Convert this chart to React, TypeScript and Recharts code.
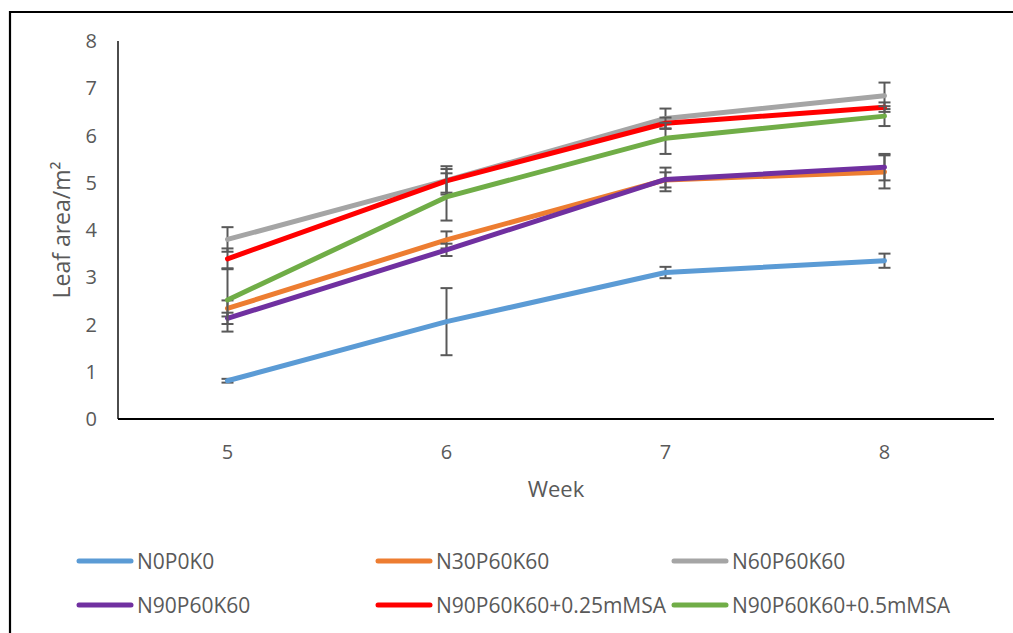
import React from 'react';
import { LineChart, Line, XAxis, YAxis, ErrorBar, Label } from 'recharts';

const weeks = ['5', '6', '7', '8'];
const yTicks = [0, 1, 2, 3, 4, 5, 6, 7, 8];

const seriesNames = [
  'N0P0K0',
  'N30P60K60',
  'N60P60K60',
  'N90P60K60',
  'N90P60K60+0.25mMSA',
  'N90P60K60+0.5mMSA',
];
const seriesColors = ['#5B9BD5', '#ED7D31', '#A5A5A5', '#7030A0', '#FF0000', '#70AD47'];

const n0p0k0 = [0.81, 2.06, 3.1, 3.35];
const n0p0k0Err = [0.04, 0.71, 0.12, 0.15];
const n30p60k60 = [2.34, 3.79, 5.06, 5.23];
const n30p60k60Err = [0.17, 0.18, 0.16, 0.35];
const n60p60k60 = [3.8, 5.05, 6.36, 6.84];
const n60p60k60Err = [0.26, 0.3, 0.21, 0.28];
const n90p60k60 = [2.13, 3.58, 5.07, 5.33];
const n90p60k60Err = [0.12, 0.13, 0.25, 0.28];
const n90msa025 = [3.39, 5.04, 6.26, 6.6];
const n90msa025Err = [0.22, 0.25, 0.12, 0.1];
const n90msa05 = [2.52, 4.7, 5.94, 6.41];
const n90msa05Err = [0.67, 0.5, 0.33, 0.21];

const seriesValues = [n0p0k0, n30p60k60, n60p60k60, n90p60k60, n90msa025, n90msa05];
const seriesErrors = [n0p0k0Err, n30p60k60Err, n60p60k60Err, n90p60k60Err, n90msa025Err, n90msa05Err];

const data = weeks.map((w, i) => {
  const row: Record<string, string | number> = { week: w };
  seriesValues.forEach((vals, s) => {
    row['s' + s] = vals[i];
    row['e' + s] = seriesErrors[s][i];
  });
  return row;
});

const FONT = "'Open Sans', sans-serif";
const TEXT = '#595959';

// legend layout (row, column)
const legendCols = [77, 376, 672];
const legendRows = [561, 605];

export default function App() {
  return (
    <div
      style={{
        position: 'absolute',
        left: 0,
        top: 0,
        width: 1013,
        height: 633,
        background: '#fff',
        overflow: 'hidden',
      }}
    >
      <LineChart
        width={1013}
        height={633}
        data={data}
        margin={{ top: 41, right: 19, left: 0, bottom: 0 }}
      >
        <XAxis
          dataKey="week"
          height={214}
          padding={{ left: 109.5, right: 109.5 }}
          tickLine={false}
          tickSize={6}
          tickMargin={20}
          axisLine={{ stroke: '#000', strokeWidth: 2.2 }}
          tick={{ fontSize: 20, fill: TEXT, fontFamily: FONT }}
          interval={0}
        >
          <Label
            value="Week"
            position="insideTop"
            offset={62}
            style={{ fontSize: 22, fill: TEXT, fontFamily: FONT }}
          />
        </XAxis>
        <YAxis
          width={118}
          domain={[0, 8]}
          ticks={yTicks}
          interval={0}
          tickLine={false}
          tickSize={6}
          tickMargin={15}
          axisLine={{ stroke: '#000', strokeWidth: 1.4 }}
          tick={{ fontSize: 20, fill: TEXT, fontFamily: FONT }}
        >
          <Label
            value="Leaf area/m²"
            angle={-90}
            position="center"
            dx={3}
            style={{ fontSize: 23, fill: TEXT, fontFamily: FONT }}
          />
        </YAxis>
        {seriesNames.map((name, s) => (
          <Line
            key={name}
            name={name}
            dataKey={'s' + s}
            type="linear"
            stroke={seriesColors[s]}
            strokeWidth={5}
            strokeLinecap="round"
            strokeLinejoin="round"
            dot={false}
            activeDot={false}
            isAnimationActive={false}
          >
            <ErrorBar
              dataKey={'e' + s}
              direction="y"
              width={6}
              strokeWidth={2}
              stroke="#595959"
              isAnimationActive={false}
            />
          </Line>
        ))}
      </LineChart>
      <svg
        width={1013}
        height={633}
        style={{ position: 'absolute', left: 0, top: 0, pointerEvents: 'none' }}
      >
        <line x1={10} y1={12} x2={1013} y2={12} stroke="#000" strokeWidth={2.2} />
        <line x1={10} y1={11} x2={10} y2={633} stroke="#000" strokeWidth={2.2} />
        {seriesNames.map((name, s) => {
          const r = Math.floor(s / 3);
          const c = s % 3;
          const x = legendCols[c];
          const y = legendRows[r];
          return (
            <g key={name}>
              <line
                x1={x + 2}
                y1={y}
                x2={x + 54}
                y2={y}
                stroke={seriesColors[s]}
                strokeWidth={5}
                strokeLinecap="round"
              />
              <text
                x={x + 60}
                y={y + 7.5}
                fontSize={21}
                fill={TEXT}
                fontFamily={FONT}
              >
                {name}
              </text>
            </g>
          );
        })}
      </svg>
    </div>
  );
}
